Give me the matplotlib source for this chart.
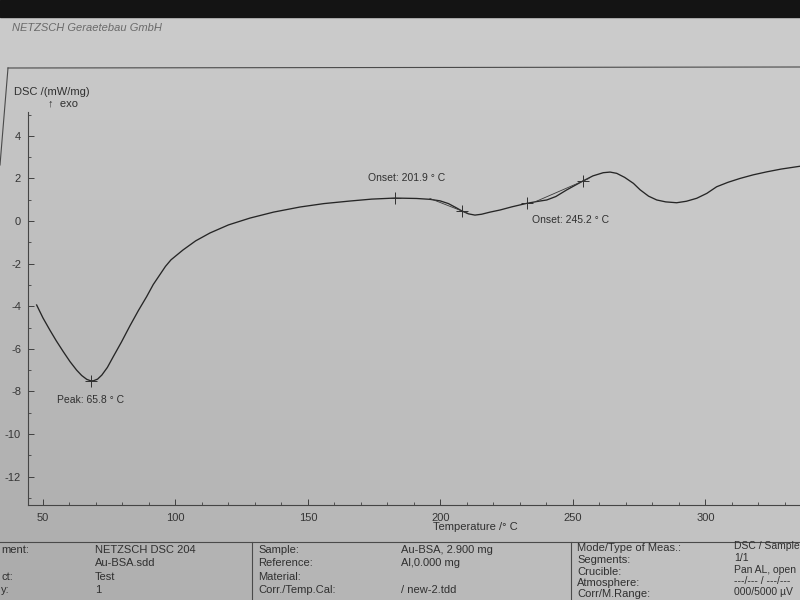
import matplotlib
matplotlib.use('Agg')
import matplotlib.pyplot as plt
import numpy as np
from matplotlib.lines import Line2D
from matplotlib.patches import Rectangle

plt.rcParams['font.family'] = ['Liberation Sans', 'DejaVu Sans']
plt.rcParams['axes.unicode_minus'] = False

# DSC curve (temperature in deg C, DSC in mW/mg)
temp = [47.6, 50.0, 52.6, 55.0, 57.7, 60.2, 62.7, 64.6, 66.5, 68.0, 69.0,
        70.6, 72.2, 74.3, 76.5, 79.6, 82.8, 86.0, 89.1, 91.6, 94.2, 96.2, 98.3,
        102.8, 107.6, 113.0, 120.0, 128.1, 137.0, 147.0, 156.0, 165.8, 174.0,
        182.8, 191.0, 196.0, 199.8, 203.0, 206.0, 208.0, 210.5, 213.0, 215.5,
        218.7, 222.5, 227.0, 232.5, 236.5, 240.1, 243.5, 247.6, 250.8, 253.9,
        257.5, 261.4, 264.0, 266.5, 269.5, 272.8, 275.3, 278.5, 281.6, 285.0,
        289.1, 292.8, 296.7, 300.5, 304.2, 308.5, 313.0, 318.0, 323.1, 328.5,
        334.4, 345.0]
dsc = [-3.94, -4.55, -5.12, -5.62, -6.14, -6.6, -7.0, -7.25, -7.43, -7.5, -7.5,
       -7.42, -7.23, -6.87, -6.37, -5.68, -4.92, -4.2, -3.55, -2.98, -2.5, -2.13, -1.82,
       -1.36, -0.93, -0.56, -0.18, 0.14, 0.42, 0.66, 0.82, 0.94, 1.03,
       1.08, 1.06, 1.02, 0.95, 0.82, 0.62, 0.48, 0.34, 0.28, 0.32,
       0.42, 0.52, 0.67, 0.83, 0.92, 0.99, 1.15, 1.46, 1.68, 1.89,
       2.12, 2.27, 2.3, 2.24, 2.05, 1.77, 1.47, 1.17, 0.99, 0.9,
       0.86, 0.93, 1.07, 1.3, 1.61, 1.82, 2.0, 2.17, 2.31, 2.44,
       2.55, 2.75]

# evaluation marks (crosses) and tangent pieces
cross_t = [68.0, 182.8, 208.0, 232.5, 253.9]
cross_d = [-7.5, 1.08, 0.48, 0.83, 1.89]
tan1_t, tan1_d = [196.0, 210.0], [1.06, 0.38]
tan2_t, tan2_d = [236.0, 256.0], [0.92, 2.0]

labels = ['Peak: 65.8 \u00b0 C', 'Onset: 201.9 \u00b0 C', 'Onset: 245.2 \u00b0 C']
label_t = [55.3, 172.6, 234.5]
label_d = [-8.40, 2.02, 0.05]

yticks = [-12, -10, -8, -6, -4, -2, 0, 2, 4]
xticks = [50, 100, 150, 200, 250, 300]

W, H = 800, 600
fig = plt.figure(figsize=(8, 6), dpi=100)

def fx(x):
    return x / W

def fy(y):
    return 1 - y / H

def ftext(x, y, s, **kw):
    kw.setdefault('fontsize', 8)
    kw.setdefault('color', '#303030')
    kw.setdefault('va', 'center')
    fig.text(fx(x), fy(y), s, **kw)

def fline(x0, y0, x1, y1, c='#4a4a4a', lw=0.8):
    fig.add_artist(Line2D([fx(x0), fx(x1)], [fy(y0), fy(y1)], color=c, lw=lw,
                          transform=fig.transFigure))

# paper background
bg = fig.add_axes([0, 0, 1, 1], zorder=-5)
xx, yy = np.meshgrid(np.linspace(0, 1, 80), np.linspace(0, 1, 60))
shade = 0.80 - 0.10 * yy * (1 - xx) - 0.03 * yy
bg.imshow(np.dstack([shade] * 3), extent=[0, 1, 0, 1], aspect='auto', origin='upper')
bg.axis('off')
fig.add_artist(Rectangle((0, fy(17)), 1, 17 / H, color='#141414',
                         transform=fig.transFigure, zorder=2))

ftext(12, 28, 'NETZSCH Geraetebau GmbH', style='italic', color='#6a6a6a')

# outer frame
fline(8, 68, 800, 67)
fline(8, 68, 0, 165)

ax = fig.add_axes([fx(28), 95 / H, 836.5 / W, 393 / H])
ax.set_facecolor('none')
ax.plot(temp, dsc, color='#262626', lw=0.95)
ax.plot(tan1_t, tan1_d, color='#3a3a3a', lw=0.6)
ax.plot(tan2_t, tan2_d, color='#3a3a3a', lw=0.6)
ax.plot(cross_t, cross_d, ls='none', marker='+', ms=8, mew=0.7, color='#303030')
for s, t, d in zip(labels, label_t, label_d):
    ax.text(t, d, s, fontsize=7.5, color='#303030', va='center', ha='left')

ax.set_xlim(44.34, 360)
ax.set_ylim(-13.33, 5.12)
ax.set_xticks(xticks)
ax.set_xticklabels([str(v) for v in xticks])
ax.set_xticks(np.arange(50, 360, 10), minor=True)
ax.set_yticks(yticks)
ax.set_yticklabels([str(v) for v in yticks])
ax.set_yticks(np.arange(-13, 6, 1), minor=True)
ax.tick_params(which='both', direction='in', colors='#404040', labelsize=8,
               labelcolor='#353535')
ax.tick_params(which='major', length=4, width=0.7)
ax.tick_params(which='minor', length=2, width=0.6)
ax.tick_params(axis='y', pad=5)
ax.tick_params(axis='x', pad=6)
for side in ['top', 'right']:
    ax.spines[side].set_visible(False)
for side in ['left', 'bottom']:
    ax.spines[side].set_color('#454545')
    ax.spines[side].set_linewidth(0.8)

ftext(14, 92, 'DSC /(mW/mg)')
ftext(48, 103, '\u2191  exo')
ftext(433, 527, 'Temperature /\u00b0 C')

# info table below the chart (left column is cut by the photo edge)
fline(0, 542, 800, 542)
fline(252, 542, 252, 600)
fline(571, 542, 571, 600)

col1_lab = ['ment:', '', 'ct:', 'y:']
col1_val = ['NETZSCH DSC 204', 'Au-BSA.sdd', 'Test', '1']
col2_lab = ['Sample:', 'Reference:', 'Material:', 'Corr./Temp.Cal:']
col2_val = ['Au-BSA, 2.900 mg', 'Al,0.000 mg', '', '/ new-2.tdd']
col3_lab = ['Mode/Type of Meas.:', 'Segments:', 'Crucible:', 'Atmosphere:', 'Corr/M.Range:']
col3_val = ['DSC / Sample', '1/1', 'Pan AL, open', '---/--- / ---/---', '000/5000 \u00b5V']

rows_y = [550, 563, 577, 590]
for y, lab, val in zip(rows_y, col1_lab, col1_val):
    if lab:
        ftext(1, y, lab)
    ftext(95, y, val)
for y, lab, val in zip(rows_y, col2_lab, col2_val):
    ftext(258, y, lab)
    if val:
        ftext(401, y, val)
for y, lab, val in zip([548, 560, 572, 583, 594], col3_lab, col3_val):
    ftext(577, y, lab)
    ftext(734, y - 2, val, fontsize=7.5)

fig.savefig('out.png', dpi=100)
